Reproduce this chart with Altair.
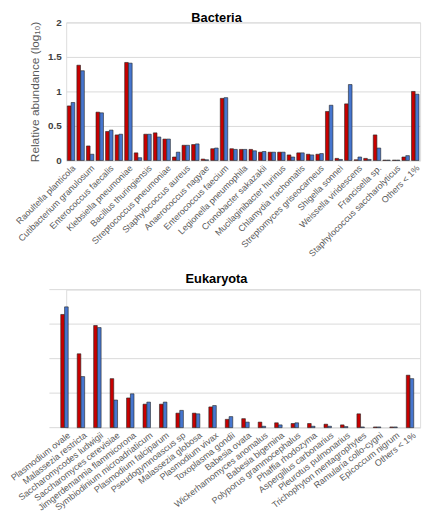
import json
import altair as alt
import pandas as pd

series = ["Series 1", "Series 2"]
colors = ["#C80000", "#4676CF"]

bact_labels = ["Raoultella planticola", "", "Cutibacterium granulosum", "", "Enterococcus faecalis", "",
               "Klebsiella pneumoniae", "", "Bacillus thuringiensis", "", "Streptococcus pneumoniae", "",
               "Staphylococcus aureus", "", "Anaerococcus nagyae", "", "Enterococcus faecium", "",
               "Legionella pneumophila", "", "Cronobacter sakazakii", "", "Mucilaginibacter hurinus", "",
               "Chlamydia trachomatis", "", "Streptomyces griseocarneus", "", "Shigella sonnei", "",
               "Weissella viridescens", "", "Francisella sp.", "", "Staphylococcus saccharolyticus", "",
               "Others < 1%"]
bact_s1 = [0.79, 1.38, 0.21, 0.70, 0.42, 0.37, 1.42, 0.11, 0.38, 0.40, 0.31, 0.05, 0.22, 0.23, 0.02,
           0.17, 0.90, 0.17, 0.16, 0.16, 0.12, 0.12, 0.12, 0.08, 0.11, 0.09, 0.09, 0.71, 0.03, 0.82,
           0.01, 0.03, 0.37, 0.005, 0.005, 0.05, 1.00]
bact_s2 = [0.84, 1.30, 0.09, 0.69, 0.44, 0.38, 1.41, 0.04, 0.38, 0.34, 0.31, 0.12, 0.22, 0.24, 0.01,
           0.18, 0.91, 0.16, 0.16, 0.14, 0.13, 0.12, 0.12, 0.05, 0.11, 0.08, 0.10, 0.80, 0.015, 1.10,
           0.05, 0.015, 0.18, 0.005, 0.005, 0.07, 0.96]

euk_labels = ["Plasmodium ovale", "Malassezia restricta", "Saccharomycodes ludwigii",
              "Saccharomyces cerevisiae", "Jimgerdemannia flammicorona", "Symbiodinium microadriaticum",
              "Plasmodium falciparum", "Pseudogymnoascus sp", "Malassezia globosa", "Plasmodium vivax",
              "Toxoplasma gondii", "Babesia ovata", "Wickerhamomyces anomalus", "Babesia bigemina",
              "Polyporus grammocephalus", "Phaffia rhodozyma", "Aspergillus carbonarius",
              "Pleurotus pulmonarius", "Trichophyton mentagrophytes", "Ramularia collo-cygni",
              "Epicoccum nigrum", "Others < 1%"]
euk_s1 = [1.64, 1.07, 1.48, 0.71, 0.43, 0.34, 0.34, 0.21, 0.21, 0.30, 0.12, 0.13, 0.08, 0.07, 0.06,
          0.06, 0.05, 0.04, 0.20, 0.01, 0.01, 0.76]
euk_s2 = [1.75, 0.74, 1.45, 0.40, 0.49, 0.37, 0.37, 0.25, 0.20, 0.32, 0.16, 0.08, 0.02, 0.04, 0.07,
          0.02, 0.02, 0.015, 0.01, 0.01, 0.01, 0.71]

y_ticks = [0, 0.5, 1, 1.5, 2]

FONT = "Liberation Sans"


def table(s1, s2):
    rows = []
    for i, (a, b) in enumerate(zip(s1, s2)):
        rows.append({"idx": i, "series": series[0], "value": a})
        rows.append({"idx": i, "series": series[1], "value": b})
    return pd.DataFrame(rows)


color_enc = alt.Color("series:N", scale=alt.Scale(domain=series, range=colors), legend=None)
bar_style = dict(stroke="#222222", strokeWidth=0.6)

# ---- Bacteria ----
top = alt.Chart(table(bact_s1, bact_s2)).mark_bar(**bar_style).encode(
    x=alt.X("idx:O", scale=alt.Scale(paddingInner=0.22, paddingOuter=0.12),
            axis=alt.Axis(title=None, labelExpr=json.dumps(bact_labels) + "[datum.value]",
                          labelAngle=-45, labelAlign="right", labelBaseline="top",
                          labelFontSize=9, labelColor="#595959", labelFont=FONT,
                          labelOverlap=False, labelPadding=3, ticks=False, domain=False)),
    xOffset=alt.XOffset("series:N", scale=alt.Scale(domain=series, paddingInner=0.05)),
    y=alt.Y("value:Q", scale=alt.Scale(domain=[0, 2]),
            axis=alt.Axis(values=y_ticks, format="~g", title="Relative abundance (log₁₀)",
                          titleFontSize=12, titleColor="#595959", titleFontWeight="normal",
                          titleFont=FONT, labelFontSize=10, labelFontWeight="bold",
                          labelColor="#404040", labelFont=FONT, domain=False, ticks=False,
                          gridColor="#D9D9D9", labelPadding=5, titlePadding=6)),
    color=color_enc,
).properties(width=359, height=140,
             title=alt.Title("Bacteria", fontSize=13, font=FONT, fontWeight="bold", color="#000000",
                             offset=-8, dx=-27))

# ---- Eukaryota ----
grid = alt.Chart(pd.DataFrame({"v": y_ticks})).mark_rule(color="#D9D9D9", strokeWidth=1).encode(
    y=alt.Y("v:Q", scale=alt.Scale(domain=[0, 2]), axis=None),
    x=alt.value(-17), x2=alt.value(359),
)
bars = alt.Chart(table(euk_s1, euk_s2)).mark_bar(**bar_style).encode(
    x=alt.X("idx:O", scale=alt.Scale(range=[-7.5, 359], paddingInner=0.28, paddingOuter=0.12),
            axis=alt.Axis(title=None, labelExpr=json.dumps(euk_labels) + "[datum.value]",
                          labelAngle=-38, labelAlign="right", labelBaseline="top",
                          labelFontSize=9, labelColor="#595959", labelFont=FONT,
                          labelOverlap=False, labelPadding=3, ticks=False, domain=False)),
    xOffset=alt.XOffset("series:N", scale=alt.Scale(domain=series, paddingInner=0.05)),
    y=alt.Y("value:Q", scale=alt.Scale(domain=[0, 2]), axis=None),
    color=color_enc,
)
bottom = alt.layer(grid, bars).properties(
    width=359, height=140,
    title=alt.Title("Eukaryota", fontSize=13, font=FONT, fontWeight="bold", color="#000000",
                    offset=3, dx=-27))

chart = alt.vconcat(top, bottom, spacing=14).properties(
    padding={"left": 0, "top": 0, "right": 0, "bottom": 0}
).configure_view(stroke=None).configure(font=FONT)

chart.save("out.html", embed_options={"renderer": "svg", "actions": False})
